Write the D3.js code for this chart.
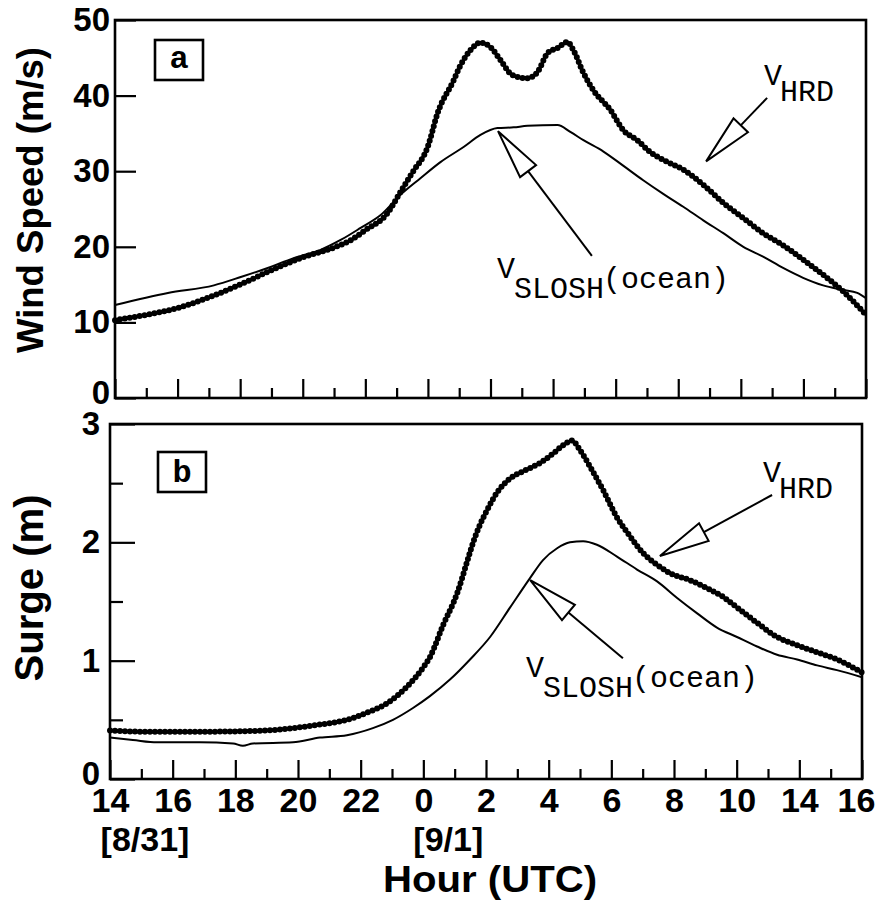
<!DOCTYPE html>
<html>
<head>
<meta charset="utf-8">
<script src="https://cdn.jsdelivr.net/npm/d3@7"></script>
<style>
  html, body { margin: 0; padding: 0; background: #fff; }
  svg { display: block; }
</style>
</head>
<body>
<svg id="chart" width="876" height="901"></svg>
<script>
// ---------------- DATA ----------------
// hours since 14 UTC 8/31
const hourTicksMajor = [0, 2, 4, 6, 8, 10, 12, 14, 16, 18, 20, 22, 24];
const hourTicksMinor = [1, 3, 5, 7, 9, 11, 13, 15, 17, 19, 21, 23];
const hourLabels = ["14", "16", "18", "20", "22", "0", "2", "4", "6", "8", "10", "14", "16"];
const dateLabels = [{ hour: 0, text: "[8/31]" }, { hour: 10, text: "[9/1]" }];

const windTicks = [0, 10, 20, 30, 40, 50];
const surgeTicksMajor = [0, 1, 2, 3];
const surgeTicksMinor = [0.5, 1.5, 2.5];

// Panel a: wind speed (m/s)
const windHRD = [
  [0, 10.3], [1, 11.0], [2, 11.9], [3, 13.3], [4, 15.0], [5, 16.9], [6, 18.6],
  [7, 19.9], [7.5, 20.8], [8, 22.2], [8.7, 24.4], [9.13, 27.3], [9.5, 29.8],
  [10, 33.3], [10.31, 37.7], [10.82, 42.0], [11.04, 44.0], [11.36, 46.0],
  [11.68, 47.0], [12.0, 46.4], [12.32, 44.7], [12.7, 42.7], [13.18, 42.3],
  [13.5, 43.1], [13.82, 45.6], [14.14, 46.3], [14.46, 47.1], [14.65, 46.0],
  [14.97, 43.0], [15.29, 40.7], [15.83, 38.1], [16.25, 35.4], [16.69, 34.1],
  [17.11, 32.5], [17.52, 31.5], [18.16, 30.2], [18.8, 28.2], [19.44, 25.8],
  [20.08, 23.8], [20.71, 21.8], [21.35, 20.2], [21.99, 18.3], [22.63, 16.3],
  [23.27, 14.1], [24, 11.0]
];
const windSLOSH = [
  [0, 12.3], [1.69, 13.9], [3.16, 14.9], [4.02, 16.0], [4.88, 17.2], [5.71, 18.5],
  [6.57, 19.6], [7.21, 20.9], [7.85, 22.5], [8.49, 24.2], [9.13, 26.9],
  [9.77, 29.1], [10.4, 31.2], [11.14, 33.2], [11.68, 34.8], [12.22, 35.7],
  [12.74, 35.8], [13.18, 36.0], [14.14, 36.1], [14.55, 35.2], [14.97, 34.1],
  [15.61, 32.6], [16.25, 30.7], [16.88, 28.8], [17.52, 27.0], [18.16, 25.3],
  [18.8, 23.5], [19.44, 21.8], [20.08, 20.0], [20.71, 18.7], [21.35, 17.2],
  [21.99, 15.9], [22.63, 14.9], [23.27, 14.3], [23.72, 13.9], [24, 13.2]
];

// Panel b: surge (m)
const surgeHRD = [
  [0, 0.41], [1, 0.40], [3, 0.40], [5.01, 0.41], [5.84, 0.43], [6.7, 0.46],
  [7.56, 0.50], [8.2, 0.56], [8.84, 0.64], [9.48, 0.78], [9.99, 0.94],
  [10.21, 1.03], [10.63, 1.30], [11.08, 1.57], [11.39, 1.83], [11.59, 2.0],
  [11.81, 2.15], [12.03, 2.27], [12.35, 2.42], [12.77, 2.54], [13.18, 2.60],
  [13.72, 2.67], [14.14, 2.75], [14.46, 2.82], [14.75, 2.86], [15.0, 2.78],
  [15.32, 2.64], [15.74, 2.44], [16.18, 2.21], [16.6, 2.05], [17.01, 1.91],
  [17.46, 1.81], [17.87, 1.74], [18.51, 1.68], [19.15, 1.60], [19.56, 1.54],
  [20.01, 1.45], [20.65, 1.32], [21.29, 1.20], [21.93, 1.13], [22.57, 1.07],
  [23.2, 1.01], [24, 0.90]
];
const surgeSLOSH = [
  [0, 0.35], [0.73, 0.33], [1.5, 0.31], [2.87, 0.31], [3.93, 0.30], [4.24, 0.28],
  [4.56, 0.30], [5.84, 0.31], [6.7, 0.35], [7.56, 0.37], [8.39, 0.43],
  [9.03, 0.50], [9.67, 0.60], [10.21, 0.70], [10.85, 0.84], [11.49, 1.01],
  [12.13, 1.20], [12.77, 1.45], [13.41, 1.70], [13.82, 1.85], [14.27, 1.95],
  [14.68, 2.00], [15.1, 2.01], [15.54, 1.98], [16.18, 1.88], [16.82, 1.77],
  [17.46, 1.67], [18.1, 1.53], [18.74, 1.40], [19.37, 1.28], [20.01, 1.20],
  [20.65, 1.12], [21.29, 1.05], [21.93, 1.01], [22.57, 0.96], [23.2, 0.92],
  [24, 0.86]
];

// Annotations (data coordinates: tip and tail of arrows)
const annotA = [
  { name: "HRD", tip: [18.89, 31.3], tail: [20.84, 39.7] },
  { name: "SLOSH", tip: [12.24, 35.3], tail: [15.24, 18.8] }
];
const annotB = [
  { name: "HRD", tip: [17.55, 1.885], tail: [21.13, 2.40] },
  { name: "SLOSH", tip: [13.41, 1.68], tail: [16.37, 1.02] }
];

// ---------------- DRAW ----------------
const svg = d3.select("#chart");
svg.append("rect").attr("width", 876).attr("height", 901).attr("fill", "#fff");

const sans = "'Liberation Sans', Arial, Helvetica, sans-serif";
const mono = "'Liberation Mono', 'Courier New', monospace";

const panels = [
  {
    x: d3.scaleLinear().domain([0, 24]).range([115, 866]),
    y: d3.scaleLinear().domain([0, 50]).range([398, 20]),
    yMajor: windTicks, yMinor: [], yMajorLen: 21, yPad: 5,
    hrd: windHRD, slosh: windSLOSH, annot: annotA,
    xLabels: false, letter: "a",
    ylabel: "Wind Speed (m/s)", ylabelSize: 36, ylabelY: 200, ylabelLen: 306,
    letterBox: { x0: 155, y0: 40 },
    text: {
      HRD: { vx: 764, vy: 85 },
      SLOSH: { vx: 497, vy: 278 }
    }
  },
  {
    x: d3.scaleLinear().domain([0, 24]).range([110, 862]),
    y: d3.scaleLinear().domain([0, 3]).range([779, 424]),
    yMajor: surgeTicksMajor, yMinor: surgeTicksMinor, yMajorLen: 25, yPad: 10,
    hrd: surgeHRD, slosh: surgeSLOSH, annot: annotB,
    xLabels: true, letter: "b",
    ylabel: "Surge (m)", ylabelSize: 40, ylabelY: 588, ylabelLen: 187,
    letterBox: { x0: 158, y0: 452 },
    text: {
      HRD: { vx: 763, vy: 482 },
      SLOSH: { vx: 526, vy: 677 }
    }
  }
];

panels.forEach(p => {
  const g = svg.append("g");
  const [x0, x1] = p.x.range();
  const [yb, yt] = p.y.range();

  // x ticks (inward)
  const xMaj = g.append("g").attr("transform", `translate(0,${yb})`)
    .call(d3.axisBottom(p.x).tickValues(hourTicksMajor).tickSize(-19)
      .tickPadding(9)
      .tickFormat((d, i) => p.xLabels ? hourLabels[i] : ""));
  xMaj.select(".domain").remove();
  xMaj.selectAll("line").attr("stroke", "#000").attr("stroke-width", 2.2);
  xMaj.selectAll("text").attr("font-family", sans).attr("font-weight", "bold")
    .attr("font-size", 34).attr("fill", "#000");
  xMaj.selectAll(".tick").filter(d => d === 24).select("text").attr("dx", -6);

  const xMin = g.append("g").attr("transform", `translate(0,${yb})`)
    .call(d3.axisBottom(p.x).tickValues(hourTicksMinor).tickSize(-10).tickFormat(""));
  xMin.select(".domain").remove();
  xMin.selectAll("line").attr("stroke", "#000").attr("stroke-width", 2.2);

  // y ticks
  const yMaj = g.append("g").attr("transform", `translate(${x0},0)`)
    .call(d3.axisLeft(p.y).tickValues(p.yMajor).tickSize(-p.yMajorLen)
      .tickPadding(p.yPad).tickFormat(d3.format("d")));
  yMaj.select(".domain").remove();
  yMaj.selectAll("line").attr("stroke", "#000").attr("stroke-width", 2.2);
  yMaj.selectAll("text").attr("font-family", sans).attr("font-weight", "bold")
    .attr("font-size", 33).attr("fill", "#000");
  yMaj.selectAll(".tick").filter(d => d === 0).select("text").attr("dy", "0.18em");

  if (p.yMinor.length) {
    const yMin = g.append("g").attr("transform", `translate(${x0},0)`)
      .call(d3.axisLeft(p.y).tickValues(p.yMinor).tickSize(-13).tickFormat(""));
    yMin.select(".domain").remove();
    yMin.selectAll("line").attr("stroke", "#000").attr("stroke-width", 2.2);
  }

  // lines
  const line = d3.line().x(d => p.x(d[0])).y(d => p.y(d[1])).curve(d3.curveMonotoneX);
  g.append("path").datum(p.slosh).attr("d", line)
    .attr("fill", "none").attr("stroke", "#000").attr("stroke-width", 2);
  g.append("path").datum(p.hrd).attr("d", line)
    .attr("fill", "none").attr("stroke", "#000").attr("stroke-width", 3);
  g.append("path").datum(p.hrd).attr("d", line)
    .attr("fill", "none").attr("stroke", "#000").attr("stroke-width", 6)
    .attr("stroke-linecap", "round").attr("stroke-dasharray", "0 5");

  // frame
  g.append("rect").attr("x", x0).attr("y", yt).attr("width", x1 - x0).attr("height", yb - yt)
    .attr("fill", "none").attr("stroke", "#000").attr("stroke-width", 2.6);

  // panel letter box
  g.append("rect").attr("x", p.letterBox.x0).attr("y", p.letterBox.y0)
    .attr("width", 48).attr("height", 40)
    .attr("fill", "#fff").attr("stroke", "#000").attr("stroke-width", 2.6);
  g.append("text").attr("x", p.letterBox.x0 + 24).attr("y", p.letterBox.y0 + (p.letter === "a" ? 28 : 30))
    .attr("text-anchor", "middle").attr("font-family", mono).attr("font-weight", "bold")
    .attr("font-size", 32).attr("fill", "#000").text(p.letter);

  // y label
  g.append("text").attr("transform", `translate(43,${p.ylabelY}) rotate(-90)`)
    .attr("text-anchor", "middle").attr("font-family", sans).attr("font-weight", "bold")
    .attr("font-size", p.ylabelSize).attr("fill", "#000")
    .attr("textLength", p.ylabelLen).attr("lengthAdjust", "spacingAndGlyphs")
    .text(p.ylabel);

  // arrows
  p.annot.forEach(a => {
    const tx = p.x(a.tip[0]), ty = p.y(a.tip[1]);
    const sx = p.x(a.tail[0]), sy = p.y(a.tail[1]);
    const dx = sx - tx, dy = sy - ty, len = Math.hypot(dx, dy);
    const ux = dx / len, uy = dy / len;
    const hl = 50, hw = 10;
    const bx = tx + ux * hl, by = ty + uy * hl;
    const c1 = [bx - uy * hw, by + ux * hw], c2 = [bx + uy * hw, by - ux * hw];
    g.append("line").attr("x1", bx).attr("y1", by).attr("x2", sx).attr("y2", sy)
      .attr("stroke", "#000").attr("stroke-width", 2);
    g.append("path").attr("d", `M${tx},${ty}L${c1[0]},${c1[1]}L${c2[0]},${c2[1]}Z`)
      .attr("fill", "#fff").attr("stroke", "#000").attr("stroke-width", 2)
      .attr("stroke-linejoin", "miter");

    const t = p.text[a.name];
    const lab = g.append("g").attr("font-family", mono).attr("font-size", 30).attr("fill", "#000");
    lab.append("text").attr("x", t.vx).attr("y", t.vy).text("V");
    if (a.name === "HRD") {
      lab.append("text").attr("x", t.vx + 16).attr("y", t.vy + 16).text("HRD");
    } else {
      lab.append("text").attr("x", t.vx + 17).attr("y", t.vy + 20).text("SLOSH");
      lab.append("text").attr("x", t.vx + 106).attr("y", t.vy + 10).text("(ocean)");
    }
  });
});

// date labels and x title
const xb = panels[1].x;
dateLabels.forEach((d, i) => {
  svg.append("text").attr("x", xb(d.hour) + (i === 0 ? 35 : 25)).attr("y", 851)
    .attr("text-anchor", "middle").attr("font-family", sans).attr("font-weight", "bold")
    .attr("font-size", 34).attr("fill", "#000").text(d.text);
});
svg.append("text").attr("x", 490).attr("y", 892)
  .attr("text-anchor", "middle").attr("font-family", sans).attr("font-weight", "bold")
  .attr("font-size", 36).attr("fill", "#000")
  .attr("textLength", 214).attr("lengthAdjust", "spacingAndGlyphs")
  .text("Hour (UTC)");
</script>
</body>
</html>
